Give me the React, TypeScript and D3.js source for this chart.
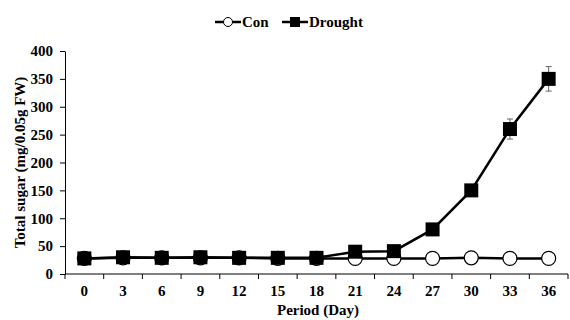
import React, { useEffect, useRef } from 'react';
import * as d3 from 'd3';

const days = [0, 3, 6, 9, 12, 15, 18, 21, 24, 27, 30, 33, 36];
const conValues = [28, 29, 29, 29, 29, 28, 28, 28, 28, 28, 29, 28, 28];
const droughtValues = [28, 30, 29, 30, 29, 29, 29, 40, 41, 80, 150, 260, 350];
const droughtErrors = [2, 2, 2, 2, 2, 2, 2, 3, 3, 5, 10, 18, 22];
const yTicks = [0, 50, 100, 150, 200, 250, 300, 350, 400];

export default function App() {
  const svgRef = useRef<SVGSVGElement>(null);

  useEffect(() => {
    if (!svgRef.current) return;
    const svg = d3.select(svgRef.current);
    svg.selectAll('*').remove();

    const font = '"Liberation Serif", "Times New Roman", serif';
    const fs = 15;
    const left = 65, right = 568, top = 51, bottom = 274;

    const x = d3.scaleBand<number>().domain(days).range([left, right]);
    const cx = (d: number) => (x(d) as number) + x.bandwidth() / 2;
    const y = d3.scaleLinear().domain([0, 400]).range([bottom, top]);

    // y axis
    const yAxis = svg.append('g')
      .attr('transform', `translate(${left},0)`)
      .call(d3.axisLeft(y).tickValues(yTicks).tickSize(5).tickSizeOuter(0).tickPadding(7));
    yAxis.select('.domain').attr('stroke', '#000').attr('stroke-width', 1);
    yAxis.selectAll('text')
      .attr('font-family', font).attr('font-size', fs).attr('font-weight', 'bold').attr('fill', '#000');

    // x axis, ticks at category boundaries
    const xg = svg.append('g');
    xg.append('line')
      .attr('x1', left).attr('x2', right).attr('y1', bottom).attr('y2', bottom)
      .attr('stroke', '#000');
    days.forEach((d, i) => {
      const bx = x(d) as number;
      xg.append('line')
        .attr('x1', bx).attr('x2', bx).attr('y1', bottom).attr('y2', bottom + 5)
        .attr('stroke', '#000');
      if (i === days.length - 1) {
        xg.append('line')
          .attr('x1', bx + x.bandwidth()).attr('x2', bx + x.bandwidth())
          .attr('y1', bottom).attr('y2', bottom + 5).attr('stroke', '#000');
      }
      xg.append('text')
        .attr('x', cx(d)).attr('y', 296)
        .attr('text-anchor', 'middle')
        .attr('font-family', font).attr('font-size', fs).attr('font-weight', 'bold')
        .text(d);
    });

    // axis titles
    svg.append('text')
      .attr('x', 318).attr('y', 315)
      .attr('text-anchor', 'middle')
      .attr('font-family', font).attr('font-size', fs).attr('font-weight', 'bold')
      .text('Period (Day)');
    svg.append('text')
      .attr('transform', `translate(25,${(top + bottom) / 2}) rotate(-90)`)
      .attr('text-anchor', 'middle')
      .attr('font-family', font).attr('font-size', fs).attr('font-weight', 'bold')
      .text('Total sugar (mg/0.05g FW)');

    const line = d3.line<number>().x((_, i) => cx(days[i])).y(v => y(v));

    // error bars
    droughtValues.forEach((v, i) => {
      const e = droughtErrors[i];
      const px = cx(days[i]);
      const g = svg.append('g').attr('stroke', '#666').attr('stroke-width', 1);
      g.append('line').attr('x1', px).attr('x2', px).attr('y1', y(v + e)).attr('y2', y(v - e));
      g.append('line').attr('x1', px - 3).attr('x2', px + 3).attr('y1', y(v + e)).attr('y2', y(v + e));
      g.append('line').attr('x1', px - 3).attr('x2', px + 3).attr('y1', y(v - e)).attr('y2', y(v - e));
    });

    // Con series
    svg.append('path').datum(conValues).attr('d', line)
      .attr('fill', 'none').attr('stroke', '#000').attr('stroke-width', 2.5);
    svg.selectAll('.con').data(conValues).enter().append('circle')
      .attr('cx', (_, i) => cx(days[i])).attr('cy', v => y(v)).attr('r', 7)
      .attr('fill', '#fff').attr('stroke', '#000').attr('stroke-width', 1.2);

    // Drought series
    svg.append('path').datum(droughtValues).attr('d', line)
      .attr('fill', 'none').attr('stroke', '#000').attr('stroke-width', 2.5);
    const s = 14;
    svg.selectAll('.dr').data(droughtValues).enter().append('rect')
      .attr('x', (_, i) => cx(days[i]) - s / 2).attr('y', v => y(v) - s / 2)
      .attr('width', s).attr('height', s).attr('fill', '#000');

    // legend
    const lg = svg.append('g').attr('transform', 'translate(0,22)');
    const items = [
      { name: 'Con', x: 215, square: false },
      { name: 'Drought', x: 282, square: true },
    ];
    items.forEach(it => {
      lg.append('line').attr('x1', it.x).attr('x2', it.x + 26).attr('y1', 0).attr('y2', 0)
        .attr('stroke', '#000').attr('stroke-width', 2.5);
      if (it.square) {
        lg.append('rect').attr('x', it.x + 13 - 5).attr('y', -5).attr('width', 10).attr('height', 10).attr('fill', '#000');
      } else {
        lg.append('circle').attr('cx', it.x + 13).attr('cy', 0).attr('r', 4.5)
          .attr('fill', '#fff').attr('stroke', '#000').attr('stroke-width', 1);
      }
      lg.append('text').attr('x', it.x + 27).attr('y', 5)
        .attr('font-family', font).attr('font-size', fs).attr('font-weight', 'bold')
        .text(it.name);
    });
  }, []);

  return (
    <svg ref={svgRef} width={570} height={320}
      style={{ position: 'absolute', left: 0, top: 0, background: '#fff' }} />
  );
}
